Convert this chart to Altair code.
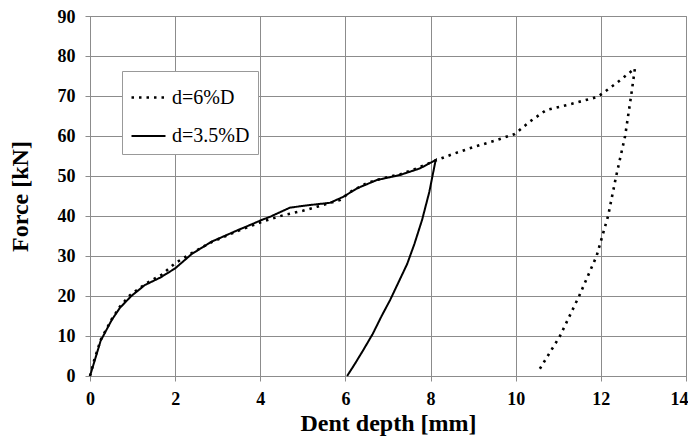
import altair as alt
import pandas as pd

# d=6%D : loading then unloading
x6 = [0, 0.1, 0.25, 0.5, 0.7, 0.94, 1.3, 1.68, 2.0, 2.4, 2.86, 3.48, 4.03, 4.54, 5.0, 5.33,
      5.87, 6.11, 6.5, 6.9, 7.28, 7.7, 8.1, 8.5, 9.0, 9.5, 9.98, 10.33, 10.72, 11.3, 11.93,
      12.4, 12.8, 12.71, 12.57, 12.36, 12.17, 11.9, 11.49, 11.04, 10.51]
y6 = [0, 4, 9, 14, 17.3, 20.2, 23, 25.3, 28.2, 30.8, 33.5, 36.3, 38.5, 40.2, 41.3, 42.3,
      44, 46, 48.2, 49.5, 50.4, 52, 53.8, 55.4, 57.2, 58.8, 60.5, 63.6, 66.5, 68, 69.8,
      73.5, 76.9, 70, 60, 50, 40, 30, 20, 10, 0.8]

# d=3.5%D : loading then unloading
x35 = [0, 0.1, 0.25, 0.51, 0.7, 0.97, 1.29, 1.65, 2.0, 2.39, 2.86, 3.48, 3.76, 4.03, 4.23,
       4.7, 5.17, 5.64, 5.95, 6.27, 6.74, 7.28, 7.75, 8.12, 7.97, 7.8, 7.62, 7.45, 7.25,
       7.05, 6.85, 6.64, 6.42, 6.22, 6.04]
y35 = [0, 3.5, 8.8, 14, 17, 20, 22.75, 24.6, 26.9, 30.5, 33.6, 36.5, 37.75, 39, 39.8,
       42.1, 42.75, 43.3, 44.8, 46.9, 49, 50.25, 51.9, 54, 46, 39, 33, 28, 23.5,
       19, 15, 10.5, 6.5, 3, 0]

series = ["d=6%D", "d=3.5%D"]
x_ticks = [0, 2, 4, 6, 8, 10, 12, 14]
y_ticks = [0, 10, 20, 30, 40, 50, 60, 70, 80, 90]

rows = []
for i, (a, b) in enumerate(zip(x6, y6)):
    rows.append({"x": a, "y": b, "s": series[0], "o": i})
for i, (a, b) in enumerate(zip(x35, y35)):
    rows.append({"x": a, "y": b, "s": series[1], "o": i})
df = pd.DataFrame(rows)

FONT = "Liberation Serif"
GRID = "#8c8c8c"

chart = alt.Chart(df).mark_line(color="black", strokeCap="butt").encode(
    x=alt.X("x:Q", scale=alt.Scale(domain=[0, 14], nice=False),
            axis=alt.Axis(values=x_ticks, title="Dent depth [mm]", format="d",
                          labelAlign={"condition": {"test": "datum.value == 14", "value": "right"},
                                      "value": "center"},
                          labelOffset={"condition": {"test": "datum.value == 14", "value": 2},
                                       "value": 0})),
    y=alt.Y("y:Q", scale=alt.Scale(domain=[0, 90], nice=False),
            axis=alt.Axis(values=y_ticks, title="Force [kN]", format="d",
                          labelOffset={"condition": {"test": "datum.value == 90", "value": 1.5},
                                       "value": 0})),
    strokeDash=alt.StrokeDash("s:N", scale=alt.Scale(domain=series, range=[[2.5, 5], [1, 0]]),
                              legend=alt.Legend(title=None, orient="none", legendX=32, legendY=55)),
    strokeWidth=alt.StrokeWidth("s:N", scale=alt.Scale(domain=series, range=[2.6, 2]), legend=None),
    order="o:Q",
).properties(
    width=596, height=360,
    autosize=alt.AutoSizeParams(type="none"),
    padding={"left": 82, "top": 8, "right": 2, "bottom": 60},
).configure_view(
    stroke=GRID, strokeWidth=1
).configure_axis(
    grid=True, gridColor=GRID, gridWidth=1, gridOpacity=1,
    domainColor=GRID, domainWidth=1, tickColor=GRID, tickSize=5, tickWidth=1,
    labelFont=FONT, labelFontSize=18, labelFontWeight="bold", labelColor="black",
    titleFont=FONT, titleFontSize=24, titleFontWeight="bold", titleColor="black",
).configure_axisX(
    labelPadding=9, titlePadding=3,
).configure_axisY(
    labelPadding=10, titlePadding=25,
).configure_legend(
    strokeColor="#999999", fillColor="white", padding=8, cornerRadius=0,
    symbolType="stroke", symbolSize=1156, symbolStrokeWidth=2, symbolStrokeColor="black",
    labelFont=FONT, labelFontSize=20, labelFontWeight="normal", labelColor="black",
    labelOffset=5, rowPadding=10,
)

chart.save("out.html", embed_options={"renderer": "svg", "actions": False})
